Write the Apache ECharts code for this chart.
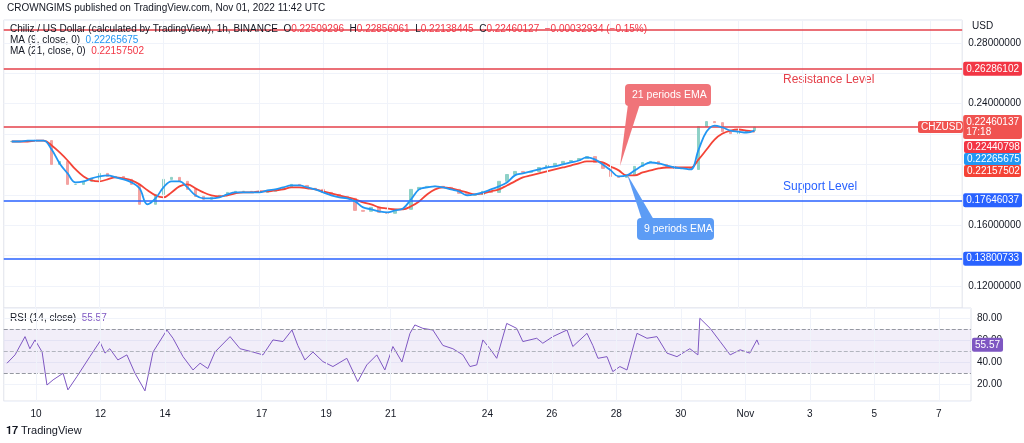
<!DOCTYPE html>
<html>
<head>
<meta charset="utf-8">
<script src="https://cdn.jsdelivr.net/npm/echarts@6/dist/echarts.min.js"></script>
<style>
  html, body { margin: 0; padding: 0; background: #fff; }
  #chart { width: 1024px; height: 443px; }
</style>
</head>
<body>
<div id="chart"></div>
<script>
// x values are days counted from Oct 1 00:00 (Oct 10 = 9), bars every 6 hours
var firstBar = 8.25, barStep = 0.25;
var closes = [.2151,.2151,.2157,.2157,.2157,.2000,.2020,.1869,.1869,.1889,.1902,.1941,.1921,.1921,.1902,.1869,.1738,.1738,.1803,.1902,
  .1915,.1889,.1836,.1790,.1771,.1784,.1797,.1816,.1823,.1823,.1816,.1816,.1823,.1836,.1849,.1869,.1862,.1843,.1836,.1816,
  .1803,.1790,.1777,.1698,.1692,.1718,.1685,.1679,.1705,.1705,.1836,.1849,.1856,.1856,.1849,.1836,.1810,.1797,.1803,.1823,
  .1816,.1889,.1934,.1954,.1948,.1954,.1980,.1993,.2007,.2020,.2026,.2039,.2052,.2013,.1974,.1921,.1915,.1928,.1987,.2013,
  .2020,.2000,.1987,.1974,.1974,.1967,.2249,.2282,.2275,.2216,.2203,.2210,.2223,.2246];
var ma9 = [.2151,.2151,.2157,.2157,.2157,.2098,.2007,.1941,.1882,.1889,.1908,.1921,.1928,.1915,.1902,.1882,.1843,.1738,.1777,.1849,
  .1889,.1889,.1849,.1797,.1777,.1777,.1784,.1803,.1816,.1816,.1816,.1816,.1830,.1836,.1849,.1862,.1862,.1849,.1836,.1816,
  .1797,.1784,.1777,.1757,.1718,.1705,.1692,.1685,.1698,.1711,.1771,.1836,.1849,.1856,.1849,.1836,.1823,.1797,.1803,.1816,
  .1836,.1856,.1882,.1928,.1941,.1954,.1967,.1980,.1987,.2000,.2013,.2026,.2046,.2033,.2000,.1961,.1921,.1928,.1961,.1993,
  .2013,.2007,.1993,.1980,.1974,.1967,.2098,.2216,.2256,.2243,.2223,.2216,.2210,.2223];
var ma21 = [.2151,.2151,.2151,.2157,.2157,.2125,.2079,.2026,.1967,.1921,.1895,.1889,.1902,.1915,.1908,.1895,.1869,.1830,.1797,.1784,
  .1816,.1856,.1869,.1843,.1816,.1797,.1790,.1797,.1810,.1816,.1816,.1823,.1823,.1830,.1836,.1849,.1849,.1843,.1836,.1823,
  .1810,.1797,.1784,.1771,.1751,.1738,.1718,.1711,.1705,.1705,.1725,.1757,.1803,.1836,.1849,.1843,.1830,.1816,.1803,.1810,
  .1823,.1836,.1862,.1889,.1915,.1928,.1941,.1954,.1967,.1980,.1993,.2007,.2020,.2020,.2013,.1987,.1961,.1928,.1928,.1948,
  .1961,.1974,.1980,.1980,.1980,.1980,.2033,.2098,.2164,.2203,.2223,.2230,.2223,.2216];
var rsiDays = [8.10,8.35,8.66,8.81,8.97,9.19,9.34,9.53,9.84,9.99,10.27,10.67,10.98,11.14,11.29,11.54,11.82,12.07,12.38,12.63,
  13.06,13.25,13.56,13.87,14.09,14.33,14.55,15.02,15.33,15.73,16.04,16.35,16.66,16.94,17.12,17.34,17.59,17.90,18.21,18.64,
  18.98,19.26,19.57,19.82,20.07,20.35,20.60,20.75,21.00,21.31,21.62,21.93,22.24,22.46,22.67,22.86,23.08,23.29,23.60,23.91,
  24.10,24.53,24.72,25.03,25.47,25.65,26.09,26.27,26.43,26.71,26.89,27.11,27.33,27.64,27.95,28.26,28.57,28.88,29.28,29.53,
  29.59,29.91,30.22,30.53,30.84,31.14,31.36,31.42];
var rsiValues = [38.8,46.4,63,52,60,49,19,23.7,29.7,14.6,26.7,44.8,58.5,48,52,41.8,46.4,29.7,13.7,49,
  69,61.5,44.8,32.7,38.8,34,49,63,52,49,46.4,60,58.5,69,55,41.8,49,40.3,35.8,43.3,
  22.1,37.3,46.4,32.7,54,40,66,73.6,70.5,69,55,52,46.4,35.8,37.3,60,52,43.3,75,70.5,
  58.5,61.5,57,63,69,54,66,55,43.3,44.8,31.2,35.8,32.7,66,61.5,63,48,44.8,52,46.4,
  79.7,70.5,58.5,46.4,51,48,60,55.6];
var tickDays = [9, 11, 13, 16, 18, 20, 23, 25, 27, 29, 31, 33, 35, 37];
var tickLabels = ['10', '12', '14', '17', '19', '21', '24', '26', '28', '30', 'Nov', '3', '5', '7'];
var priceLabels = [0.12, 0.16, 0.24, 0.28];
var redLines = [0.2886, 0.26286102, 0.22460137];
var blueLines = [0.17646037, 0.13800733];
var rsiLast = 55.57;

var FONT = 'Liberation Sans';
var candles = closes.map(function (c, i) {
  var o = i === 0 ? c : closes[i - 1];
  return [firstBar + i * barStep, o, c, Math.min(o, c), Math.max(o, c)];
});
function pts(arr) { return arr.map(function (v, i) { return [firstBar + i * barStep, v]; }); }

function badge(txt, bg) {
  return { show: true, position: 'end', formatter: txt, color: '#fff', backgroundColor: bg,
    padding: [2, 3], fontSize: 10, fontFamily: FONT, distance: 1, borderRadius: 2 };
}
function hLine(v, color, lbl) {
  return { yAxis: v, lineStyle: { color: color, width: 1.5, type: 'solid' }, label: lbl || { show: false } };
}
var vGrid = tickDays.map(function (d) {
  return { xAxis: d, lineStyle: { color: '#f0f3fa', type: 'solid', width: 1 }, label: { show: false } };
});

var chart = echarts.init(document.getElementById('chart'));
var option = {
  animation: false,
  textStyle: { fontFamily: FONT },
  grid: [
    { left: 3.75, right: 53, top: 20, height: 288, show: true, borderColor: '#e0e3eb', borderWidth: 1 },
    { left: 3.75, right: 53, top: 308, height: 93, show: true, borderColor: '#e0e3eb', borderWidth: 1 }
  ],
  xAxis: [0, 1].map(function (k) {
    return {
      type: 'value', gridIndex: k, min: 8, max: 38, interval: 1,
      axisLine: { show: false }, axisTick: { show: false }, splitLine: { show: false },
      axisLabel: {
        show: k === 1, color: '#131722', fontSize: 10, margin: 8,
        formatter: function (v) { var j = tickDays.indexOf(Math.round(v)); return j < 0 ? '' : tickLabels[j]; }
      }
    };
  }),
  yAxis: [
    { type: 'value', gridIndex: 0, position: 'right', min: 0.1056, max: 0.295, splitNumber: 9,
      axisLine: { show: false }, axisTick: { show: false },
      splitLine: { lineStyle: { color: '#f0f3fa' } },
      axisLabel: { color: '#131722', fontSize: 10, margin: 6, showMinLabel: false, showMaxLabel: false,
        formatter: function (v) { return priceLabels.some(function (p) { return Math.abs(p - v) < 1e-6; }) ? v.toFixed(8) : ''; } } },
    { type: 'value', gridIndex: 1, position: 'right', min: 4.5, max: 89, splitNumber: 4,
      axisLine: { show: false }, axisTick: { show: false },
      splitLine: { lineStyle: { color: '#f0f3fa' } },
      axisLabel: { color: '#131722', fontSize: 10, margin: 6, showMinLabel: false, showMaxLabel: false,
        formatter: function (v) { return v.toFixed(2); } } }
  ],
  series: [
    { type: 'candlestick', xAxisIndex: 0, yAxisIndex: 0, data: candles, encode: { x: 0, y: [1, 2, 3, 4] },
      barMaxWidth: 3,
      itemStyle: { color: '#8ed1c7', color0: '#f3a3a1', borderColor: '#8ed1c7', borderColor0: '#f3a3a1' },
      markLine: { silent: true, symbol: 'none', precision: 8,
        data: vGrid.concat([
          hLine(redLines[0], '#e5404a'),
          hLine(redLines[1], '#e5404a', badge('0.26286102', '#f23645')),
          hLine(redLines[2], '#e5404a', badge('0.22460137\n17:18', '#f05350')),
          hLine(blueLines[0], '#2962ff', badge('0.17646037', '#2962ff')),
          hLine(blueLines[1], '#2962ff', badge('0.13800733', '#2962ff'))
        ]) } },
    { type: 'line', name: 'MA21', xAxisIndex: 0, yAxisIndex: 0, data: pts(ma21), showSymbol: false, smooth: 0.4,
      lineStyle: { color: '#f44336', width: 1.8 }, z: 4 },
    { type: 'line', name: 'MA9', xAxisIndex: 0, yAxisIndex: 0, data: pts(ma9), showSymbol: false, smooth: 0.4,
      lineStyle: { color: '#2196f3', width: 1.8 }, z: 5 },
    { type: 'line', xAxisIndex: 1, yAxisIndex: 1, data: rsiDays.map(function (d, i) { return [d, rsiValues[i]]; }),
      showSymbol: false, lineStyle: { color: '#7e57c2', width: 1 },
      markArea: { silent: true, itemStyle: { color: 'rgba(126,87,194,0.1)' }, data: [[{ yAxis: 30 }, { yAxis: 70 }]] },
      markLine: { silent: true, symbol: 'none', precision: 2,
        data: [
          { yAxis: 70, lineStyle: { color: '#9598a1', type: 'dashed', width: 1 }, label: { show: false } },
          { yAxis: 50, lineStyle: { color: '#b2b5be', type: 'dashed', width: 1 }, label: { show: false } },
          { yAxis: 30, lineStyle: { color: '#9598a1', type: 'dashed', width: 1 }, label: { show: false } },
          { yAxis: rsiLast, lineStyle: { color: 'rgba(0,0,0,0)' }, label: badge('55.57', '#7e57c2') }
        ].concat(vGrid) } }
  ],
  graphic: [
    { type: 'text', left: 7, top: 3, style: { text: 'CROWNGIMS published on TradingView.com, Nov 01, 2022 11:42 UTC', fill: '#131722', font: '10px ' + FONT } },
    { type: 'text', left: 10, top: 24, z: 10, style: {
      text: '{k|Chiliz / US Dollar (calculated by TradingView), 1h, BINANCE  O}{v|0.22509296}{k|  H}{v|0.22856061}{k|  L}{v|0.22138445}{k|  C}{v|0.22460127}{v|  −0.00032934 (−0.15%)}',
      rich: { k: { fill: '#131722', font: '10px ' + FONT }, v: { fill: '#f23645', font: '10px ' + FONT } } } },
    { type: 'text', left: 10, top: 35, style: { text: '{k|MA (9, close, 0)  }{v|0.22265675}',
      rich: { k: { fill: '#131722', font: '10px ' + FONT }, v: { fill: '#2196f3', font: '10px ' + FONT } } } },
    { type: 'text', left: 10, top: 46, style: { text: '{k|MA (21, close, 0)  }{v|0.22157502}',
      rich: { k: { fill: '#131722', font: '10px ' + FONT }, v: { fill: '#f23645', font: '10px ' + FONT } } } },
    { type: 'text', left: 10, top: 313, style: { text: '{k|RSI (14, close)  }{v|55.57}',
      rich: { k: { fill: '#131722', font: '10px ' + FONT }, v: { fill: '#7e57c2', font: '10px ' + FONT } } } },
    { type: 'text', left: 972, top: 21, style: { text: 'USD', fill: '#131722', font: '10px ' + FONT } },
    { type: 'text', left: 6, top: 425, style: { text: '𝟏𝟕 TradingView', fill: '#131722', font: '11px ' + FONT } },
    { type: 'text', left: 783, top: 74, style: { text: 'Resistance Level', fill: '#e5404a', font: '12px ' + FONT } },
    { type: 'text', left: 783, top: 181, style: { text: 'Support Level', fill: '#2962ff', font: '12px ' + FONT } },
    // stacked value badges at the price scale
    { type: 'rect', z: 30, shape: { x: 918, y: 121, width: 45, height: 12, r: 2 }, style: { fill: '#f05350' } },
    { type: 'text', z: 31, left: 921, top: 122, style: { text: 'CHZUSD', fill: '#fff', font: '10px ' + FONT } },
    { type: 'rect', z: 30, shape: { x: 964, y: 141, width: 57, height: 12, r: 2 }, style: { fill: '#f23645' } },
    { type: 'text', z: 31, left: 967, top: 142, style: { text: '0.22440798', fill: '#fff', font: '10px ' + FONT } },
    { type: 'rect', z: 30, shape: { x: 964, y: 153, width: 57, height: 12, r: 2 }, style: { fill: '#2196f3' } },
    { type: 'text', z: 31, left: 967, top: 154, style: { text: '0.22265675', fill: '#fff', font: '10px ' + FONT } },
    { type: 'rect', z: 30, shape: { x: 964, y: 165, width: 57, height: 12, r: 2 }, style: { fill: '#f44336' } },
    { type: 'text', z: 31, left: 967, top: 166, style: { text: '0.22157502', fill: '#fff', font: '10px ' + FONT } },
    // callouts
    { type: 'polygon', shape: { points: [[628, 104], [640, 104], [620, 166]] }, style: { fill: '#f07479' }, z: 20 },
    { type: 'rect', shape: { x: 625, y: 84, width: 86, height: 22, r: 4 }, style: { fill: '#f07479' }, z: 20 },
    { type: 'text', left: 632, top: 90, z: 21, style: { text: '21 periods EMA', fill: '#fff', font: '10.5px ' + FONT } },
    { type: 'polygon', shape: { points: [[627, 174], [642, 220], [654, 220]] }, style: { fill: '#5c9cf5' }, z: 20 },
    { type: 'rect', shape: { x: 637, y: 218, width: 77, height: 22, r: 4 }, style: { fill: '#5c9cf5' }, z: 20 },
    { type: 'text', left: 644, top: 224, z: 21, style: { text: '9 periods EMA', fill: '#fff', font: '10.5px ' + FONT } }
  ]
};
chart.setOption(option);
</script>
</body>
</html>
